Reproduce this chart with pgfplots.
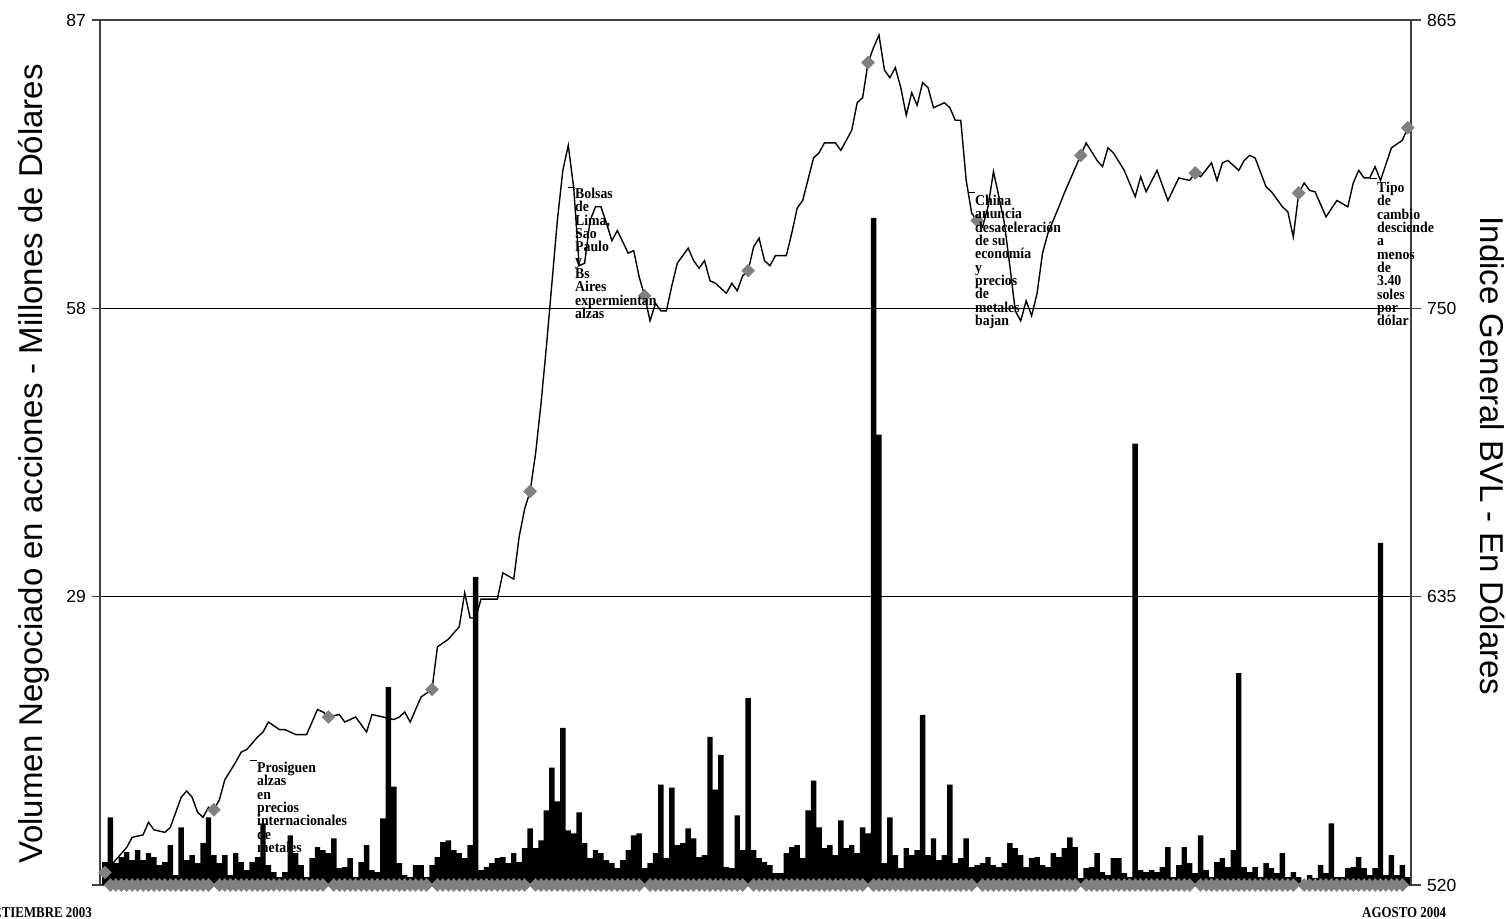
\documentclass[border=0pt]{standalone}
\usepackage{fontspec}
\setmainfont{Liberation Sans}
\newfontfamily\annfont[FakeStretch=0.92]{Liberation Serif}
\newfontfamily\datefont[FakeStretch=0.86]{Liberation Serif}
\usepackage{pgfplots}
\usepackage{pgfplotstable}
\pgfplotsset{compat=1.18}
\definecolor{mk}{HTML}{808080}
\definecolor{ax}{HTML}{404040}

% volumen diario (millones US$); base = fila de rombos al pie (nan en fechas de mes)
\pgfplotstableread[row sep=\\]{
i vol base\\
0 2.3 nan\\1 6.8 0\\2 2.2 0\\3 2.8 0\\4 3.3 0\\5 2.5 0\\6 3.5 0\\7 2.5 0\\8 3.2 0\\9 2.8 0\\
10 2.0 0\\11 2.3 0\\12 4.0 0\\13 1.0 0\\14 5.8 0\\15 2.5 0\\16 3.0 0\\17 2.2 0\\18 4.2 0\\19 6.8 0\\
20 3.0 nan\\21 2.2 0\\22 3.0 0\\23 1.0 0\\24 3.2 0\\25 2.3 0\\26 1.5 0\\27 2.3 0\\28 2.8 0\\29 6.2 0\\
30 2.0 0\\31 1.3 0\\32 0.8 0\\33 1.3 0\\34 5.0 0\\35 3.2 0\\36 2.0 0\\37 0.8 0\\38 2.7 0\\39 3.8 0\\
40 3.5 0\\41 3.2 nan\\42 4.7 0\\43 1.7 0\\44 1.8 0\\45 2.7 0\\46 0.8 0\\47 2.3 0\\48 4.0 0\\49 1.5 0\\
50 1.3 0\\51 6.7 0\\52 19.9 0\\53 9.9 0\\54 2.2 0\\55 1.0 0\\56 0.8 0\\57 2.0 0\\58 2.0 0\\59 0.8 0\\
60 2.0 nan\\61 2.8 0\\62 4.3 0\\63 4.5 0\\64 3.5 0\\65 3.2 0\\66 2.7 0\\67 4.0 0\\68 31.0 0\\69 1.5 0\\
70 1.8 0\\71 2.2 0\\72 2.7 0\\73 2.8 0\\74 2.2 0\\75 3.2 0\\76 2.3 0\\77 3.7 0\\78 5.7 nan\\79 3.7 0\\
80 4.5 0\\81 7.5 0\\82 11.8 0\\83 8.4 0\\84 15.8 0\\85 5.5 0\\86 5.2 0\\87 7.3 0\\88 4.2 0\\89 2.7 0\\
90 3.5 0\\91 3.2 0\\92 2.5 0\\93 2.2 0\\94 1.7 0\\95 2.5 0\\96 3.5 0\\97 5.0 0\\98 5.2 0\\99 1.7 nan\\
100 2.2 0\\101 3.2 0\\102 10.1 0\\103 2.7 0\\104 9.8 0\\105 4.0 0\\106 4.2 0\\107 5.7 0\\108 4.7 0\\109 2.8 0\\
110 3.0 0\\111 14.9 0\\112 9.6 0\\113 13.1 0\\114 1.8 0\\115 1.7 0\\116 7.0 0\\117 3.5 0\\118 18.8 nan\\119 3.5 0\\
120 2.7 0\\121 2.3 0\\122 2.0 0\\123 1.2 0\\124 1.2 0\\125 3.2 0\\126 3.8 0\\127 4.0 0\\128 2.7 0\\129 7.5 0\\
130 10.5 0\\131 5.8 0\\132 3.7 0\\133 4.0 0\\134 3.0 0\\135 6.5 0\\136 3.7 0\\137 4.0 0\\138 3.2 0\\139 5.8 0\\
140 5.2 nan\\141 67.1 0\\142 45.3 0\\143 2.2 0\\144 6.8 0\\145 3.0 0\\146 1.7 0\\147 3.7 0\\148 3.0 0\\149 3.5 0\\
150 17.1 0\\151 3.0 0\\152 4.7 0\\153 2.5 0\\154 3.0 0\\155 10.1 0\\156 2.2 0\\157 2.7 0\\158 4.7 0\\159 1.8 0\\
160 2.0 nan\\161 2.2 0\\162 2.8 0\\163 2.0 0\\164 1.8 0\\165 2.2 0\\166 4.2 0\\167 3.7 0\\168 3.0 0\\169 1.8 0\\
170 2.7 0\\171 2.8 0\\172 2.0 0\\173 1.8 0\\174 3.2 0\\175 2.8 0\\176 3.7 0\\177 4.8 0\\178 3.8 0\\179 0.7 nan\\
180 1.7 0\\181 1.8 0\\182 3.2 0\\183 1.3 0\\184 1.0 0\\185 2.7 0\\186 2.7 0\\187 1.2 0\\188 0.8 0\\189 44.4 0\\
190 1.5 0\\191 1.3 0\\192 1.5 0\\193 1.3 0\\194 1.8 0\\195 3.8 0\\196 0.8 0\\197 2.0 0\\198 3.8 0\\199 2.2 0\\
200 1.2 nan\\201 5.0 0\\202 1.5 0\\203 0.8 0\\204 2.3 0\\205 2.7 0\\206 1.8 0\\207 3.5 0\\208 21.3 0\\209 1.8 0\\
210 1.3 0\\211 1.8 0\\212 0.8 0\\213 2.2 0\\214 1.7 0\\215 1.2 0\\216 3.2 0\\217 0.8 0\\218 1.3 0\\219 0.8 nan\\
220 0.3 0\\221 1.0 0\\222 0.7 0\\223 2.0 0\\224 1.2 0\\225 6.2 0\\226 0.8 0\\227 0.8 0\\228 1.7 0\\229 1.8 0\\
230 2.8 0\\231 1.7 0\\232 1.0 0\\233 1.7 0\\234 34.4 0\\235 1.0 0\\236 3.0 0\\237 1.0 0\\238 2.0 0\\239 0.8 nan\\
}\volume

% indice general BVL (US$)
\pgfplotstableread[row sep=\\]{
i v\\
0 525\\4 535\\5 539\\7 540\\8 545\\9 542\\11 541\\12 543\\14 555\\15 557.5\\16 555\\17 549\\18 547\\19 551\\
20 550\\21 554\\22 562\\24 569\\25 573\\26 574\\28 579\\29 581\\30 585\\32 582\\33 582\\35 580\\37 580\\39 590\\
40 589\\41 587\\43 588\\44 585\\46 587\\48 581\\49 588\\51 587\\53 586\\54 587\\55 589\\56 585\\58 595\\
60 598\\61 615\\63 618\\65 623\\66 636.5\\67 626.5\\68 626.5\\69 634\\72 634\\73 644.5\\75 642\\76 659\\77 670\\
78 677\\79 692\\80 712\\81 735\\82 760\\83 785\\84 805\\85 815\\86 798\\87 767\\88 768\\89 785\\90 790.5\\91 790.5\\
92 784\\93 777\\94 781\\96 772\\97 773\\98 762.6\\99 755\\100 745\\101 752\\102 749\\103 749\\104 759\\105 768\\
107 774\\108 769\\109 766\\110 769\\111 761\\112 760\\114 756\\115 760\\116 757\\117 763\\118 765\\119 774.5\\
120 778\\121 769\\122 767\\123 771\\125 771\\126 780\\127 790\\128 793\\130 810\\131 812\\132 816\\134 816\\
135 813\\136 817\\137 821\\138 832\\139 834\\140 848\\141 854\\142 859\\143 845\\144 842\\145 846\\146 838\\
147 827\\148 836\\149 831\\150 840\\151 838\\152 830\\154 832\\155 830\\156 825\\157 825\\158 801\\159 788\\
160 785\\161 782.5\\162 790.5\\163 804.5\\164 794.5\\165 784\\166 767\\167 749\\168 745\\169 753\\170 747\\
171 756\\172 772\\173 780\\175 790.5\\176 796\\178 806\\179 811\\180 816\\182 809\\183 806.5\\184 814\\185 812\\
187 805\\189 794.5\\190 802.5\\191 796.5\\193 805\\195 793\\197 802\\199 801\\200 804\\201 802.5\\203 808\\
204 801\\205 808\\206 809\\208 805\\209 809\\210 811\\211 810\\213 798.5\\214 796.5\\216 790.5\\217 788.5\\
218 778.5\\219 796\\220 800\\221 797\\222 796.5\\224 786.5\\226 793\\228 790.5\\229 800\\230 805\\231 802\\
232 802\\233 806.5\\234 801\\236 814\\238 817\\239 822\\
}\bvl

\pgfplotsset{chartbase/.style={
  at={(0pt,0pt)}, anchor=south west,
  scale only axis, width=1311pt, height=865pt,
  xmin=-0.9, xmax=239.6,
  xtick=\empty,
  clip=false,
  /pgf/number format/assume math mode=true,
  tick label style={font=\fontsize{17.5}{20}\selectfont, inner sep=0pt},
  tick align=outside,
  tick style={ax, line width=1.6pt},
  axis line style={ax, line width=2pt},
},
rombo/.style={only marks, color=mk, mark=square*, mark size=4.6pt,
  mark options={rotate=45, draw=none, fill=mk}}}

\begin{document}
\begin{tikzpicture}
\begin{axis}[chartbase,
  ymin=0, ymax=87, ytick={0,29,58,87}, yticklabels={,29,58,87},
  ytick pos=left, major tick length=8pt,
  yticklabel style={anchor=east, xshift=-6pt},
  ymajorgrids, grid style={black, line width=1.5pt}]
\addplot[ybar, bar width=1, fill=black, draw=none] table[x=i, y=vol]{\volume};
\addplot[rombo] table[x=i, y=base]{\volume};
\end{axis}
\begin{axis}[chartbase,
  ymin=520, ymax=865, ytick={520,635,750,865},
  axis y line*=right, axis x line=none, major tick length=10pt,
  yticklabel style={anchor=west, xshift=6pt}]
\addplot[black, line width=1.4pt, mark=none] table[x=i, y=v]{\bvl};
\addplot[rombo] coordinates {
  (0,525) (20,550) (41,587) (60,598) (78,677) (99,755) (118,765)
  (140,848) (160,785) (179,811) (200,804) (219,796) (239,822)};
\end{axis}

\node[rotate=90, anchor=base, font=\fontsize{33}{36}\selectfont] at (-58pt,421pt)
  {Volumen Negociado en acciones - Millones de Dólares};
\node[rotate=-90, anchor=base, font=\fontsize{33}{36}\selectfont] at (1380pt,429pt)
  {Indice General BVL - En Dólares};

\tikzset{ann/.style={anchor=north west, align=left, inner sep=0pt,
  font={\annfont\bfseries\fontsize{15}{13.3}\selectfont\lineskiplimit=-100pt}}}
\draw[line width=1pt] (150pt,125pt) -- (157pt,125pt);
\node[ann] at (157pt,123pt) {Prosiguen\\alzas\\en\\precios\\internacionales\\de\\metales};
\draw[line width=1pt] (468pt,697pt) -- (475pt,697pt);
\node[ann] at (475pt,697pt) {Bolsas\\de\\Lima,\\Sao\\Paulo\\y\\Bs\\Aires\\expermientan\\alzas};
\draw[line width=1pt] (869pt,692pt) -- (875pt,692pt);
\node[ann] at (875pt,690pt) {China\\anuncia\\desaceleración\\de su\\economía\\y\\precios\\de\\metales\\bajan};
\draw[line width=1pt] (1270pt,706pt) -- (1277pt,706pt);
\node[ann] at (1277pt,703pt) {Tipo\\de\\cambio\\desciende\\a\\menos\\de\\3.40\\soles\\por\\dólar};

\node[anchor=base east, inner sep=0pt, font=\datefont\bfseries\fontsize{15}{18}\selectfont]
  at (-8pt,-32pt) {SETIEMBRE 2003};
\node[anchor=base west, inner sep=0pt, font=\datefont\bfseries\fontsize{15}{18}\selectfont]
  at (1262pt,-32pt) {AGOSTO 2004};

\pgfresetboundingbox
\path[use as bounding box] (-100pt,-33pt) rectangle (1406pt,885pt);
\end{tikzpicture}
\end{document}
